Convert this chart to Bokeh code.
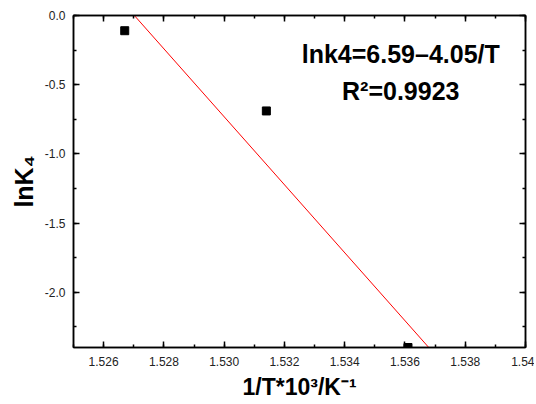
from bokeh.plotting import figure
from bokeh.models import LinearAxis, FixedTicker, Label, Range1d
from bokeh.embed import file_html
from bokeh.resources import INLINE

# data
inv_T = [1.5267, 1.5314, 1.5361]
ln_k4 = [-0.11, -0.69, -2.40]
fit_x = [1.52702, 1.53679]
fit_y = [0.0, -2.40]

x_ticks = [1.526, 1.528, 1.530, 1.532, 1.534, 1.536, 1.538, 1.540]
x_labels = ["1.526", "1.528", "1.530", "1.532", "1.534", "1.536", "1.538", "1.54"]
x_minor = [1.525 + 0.001 * i for i in range(16)]
y_ticks = [0.0, -0.5, -1.0, -1.5, -2.0]
y_labels = ["0.0", "-0.5", "-1.0", "-1.5", "-2.0"]
y_minor = [-0.25 * i for i in range(10)]

FONT = "Liberation Sans"

p = figure(width=534, height=402, output_backend="svg", toolbar_location=None,
           x_range=Range1d(1.525, 1.540), y_range=Range1d(-2.4, 0.0),
           min_border_left=73, min_border_right=9, min_border_top=15, min_border_bottom=55)
p.background_fill_color = "white"
p.border_fill_color = "white"
p.outline_line_color = "black"
p.outline_line_width = 1.5
p.grid.visible = False

xt = FixedTicker(ticks=x_ticks, minor_ticks=x_minor)
yt = FixedTicker(ticks=y_ticks, minor_ticks=y_minor)

def style(ax, show):
    ax.axis_line_color = "black"
    ax.axis_line_width = 1.5
    ax.major_tick_in = 6
    ax.major_tick_out = 0
    ax.minor_tick_in = 3
    ax.minor_tick_out = 0
    ax.major_tick_line_width = 1.5
    ax.minor_tick_line_width = 1.5
    ax.major_tick_line_color = "black"
    ax.minor_tick_line_color = "black"
    if show:
        ax.major_label_text_font = FONT
        ax.major_label_text_font_size = "12px"
        ax.major_label_text_color = "#222222"
    else:
        ax.major_label_text_font_size = "0px"
        ax.major_label_text_color = None
        ax.major_label_standoff = 0

xa = p.xaxis[0]
xa.ticker = xt
xa.major_label_overrides = dict(zip(x_ticks, x_labels))
style(xa, True)
xa.major_label_standoff = 9
xa.axis_label = "1/T*10³/K⁻¹"
xa.axis_label_text_font = FONT
xa.axis_label_text_font_style = "bold"
xa.axis_label_text_font_size = "23px"
xa.axis_label_text_color = "black"
xa.axis_label_standoff = 5

ya = p.yaxis[0]
ya.ticker = yt
ya.major_label_overrides = dict(zip(y_ticks, y_labels))
style(ya, True)
ya.major_label_standoff = 8
ya.axis_label = "lnK₄"
ya.axis_label_text_font = FONT
ya.axis_label_text_font_style = "bold"
ya.axis_label_text_font_size = "25px"
ya.axis_label_text_color = "black"
ya.axis_label_standoff = 4

top = LinearAxis(ticker=FixedTicker(ticks=x_ticks, minor_ticks=x_minor))
style(top, False)
p.add_layout(top, "above")
right = LinearAxis(ticker=FixedTicker(ticks=y_ticks, minor_ticks=y_minor))
style(right, False)
p.add_layout(right, "right")

p.line(fit_x, fit_y, line_color="red", line_width=1)
p.scatter(inv_T, ln_k4, marker="square", size=8, fill_color="black", line_color="black")

l1 = Label(x=1.53586, y=-0.275, text="lnk4=6.59–4.05/T", text_align="center",
           text_baseline="alphabetic", text_font=FONT, text_font_style="bold",
           text_font_size="25px", text_color="black")
l2 = Label(x=1.53586, y=-0.545, text="R²=0.9923", text_align="center",
           text_baseline="alphabetic", text_font=FONT, text_font_style="bold",
           text_font_size="25px", text_color="black")
p.add_layout(l1)
p.add_layout(l2)

open("out.html", "w").write(file_html(p, INLINE))
